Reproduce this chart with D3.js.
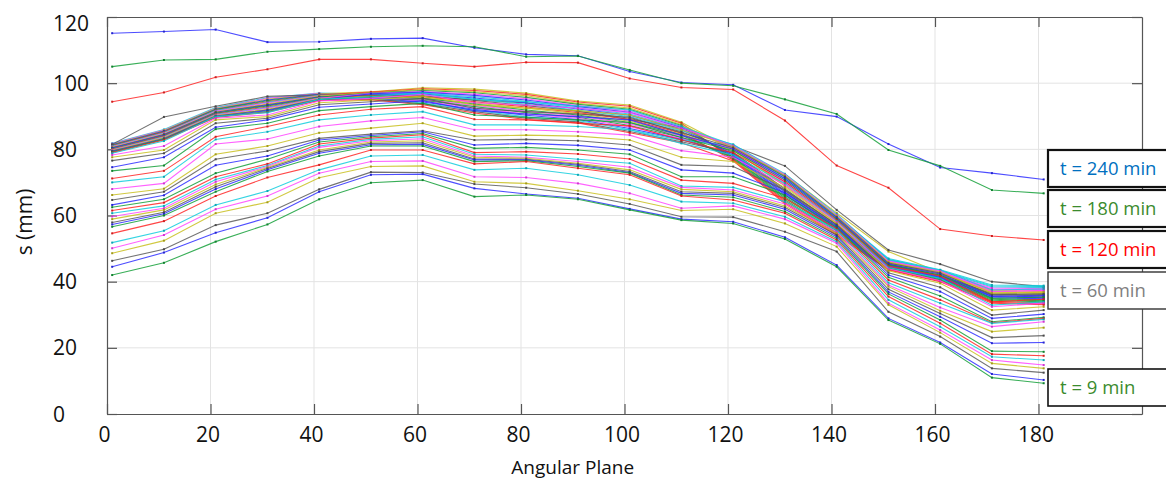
<!DOCTYPE html>
<html>
<head>
<meta charset="utf-8">
<script src="https://cdn.jsdelivr.net/npm/d3@7"></script>
<style>
  html, body { margin: 0; padding: 0; background: #ffffff; }
  svg { display: block; }
  .tick text { font-family: "Open Sans", sans-serif; fill: #111; }
</style>
</head>
<body>
<script>
// ---------------- DATA ----------------
const angles = [1, 11, 21, 31, 41, 51, 61, 71, 81, 91, 101, 111, 121, 131, 141, 151, 161, 171, 181];
const xTicks = [0, 20, 40, 60, 80, 100, 120, 140, 160, 180];
const yTicks = [0, 20, 40, 60, 80, 100, 120];

const s240 = [115.1, 115.6, 116.2, 112.4, 112.5, 113.4, 113.6, 110.7, 108.7, 108.3, 103.5, 100.2, 99.5, 91.9, 89.9, 81.6, 74.5, 72.8, 70.9];
const s180 = [105.0, 107.0, 107.2, 109.5, 110.3, 111.0, 111.3, 111.0, 108.0, 108.2, 104.0, 100.0, 99.2, 95.1, 90.7, 79.8, 75.0, 67.7, 66.7];
const s120 = [94.4, 97.2, 101.8, 104.2, 107.2, 107.2, 106.0, 105.0, 106.3, 106.2, 101.4, 98.7, 98.1, 88.7, 75.1, 68.4, 55.9, 53.8, 52.6];
const s60  = [81.5, 89.8, 93.0, 96.0, 96.5, 96.5, 96.0, 95.0, 94.0, 91.5, 89.0, 86.5, 81.0, 75.0, 61.7, 49.6, 45.3, 40.0, 38.5];

// tight upper bundle (listed bottom -> top at the left edge)
const bundleSeries = [
  [79.0, 82.8, 89.6, 91.2, 94.8, 95.0, 93.5, 91.0, 89.0, 88.0, 85.0, 82.0, 76.5, 63.5, 54.0, 43.5, 40.0, 33.5, 33.0],
  [79.2, 83.0, 89.8, 91.4, 94.9, 95.9, 95.4, 93.7, 91.9, 90.4, 88.1, 84.3, 77.3, 64.8, 54.9, 44.1, 40.6, 34.4, 33.9],
  [79.3, 83.1, 89.9, 91.7, 95.0, 96.8, 97.3, 96.3, 94.9, 92.9, 91.2, 86.6, 78.1, 66.2, 55.9, 44.6, 41.1, 35.2, 34.8],
  [79.5, 83.3, 90.1, 91.9, 95.1, 95.1, 93.8, 91.4, 89.4, 88.3, 85.4, 82.3, 78.9, 67.5, 56.8, 45.2, 41.7, 36.1, 35.7],
  [79.6, 83.5, 90.2, 92.1, 95.3, 96.0, 95.6, 94.0, 92.4, 90.8, 88.5, 84.6, 79.7, 68.9, 57.8, 45.7, 42.3, 37.0, 36.7],
  [79.8, 83.6, 90.4, 92.4, 95.4, 96.9, 97.5, 96.7, 95.3, 93.2, 91.6, 86.9, 80.4, 70.2, 58.7, 46.3, 42.8, 37.8, 37.6],
  [79.9, 83.8, 90.5, 92.6, 95.5, 95.3, 94.0, 91.8, 89.8, 88.7, 85.9, 82.7, 81.2, 71.6, 59.7, 46.8, 43.4, 38.7, 38.5],
  [80.0, 84.0, 90.7, 92.8, 95.6, 96.1, 95.9, 94.4, 92.8, 91.1, 89.0, 84.9, 76.8, 63.9, 54.3, 43.7, 40.2, 33.8, 33.3],
  [80.2, 84.1, 90.9, 93.1, 95.7, 97.0, 97.8, 97.1, 95.7, 93.6, 92.1, 87.2, 77.6, 65.3, 55.3, 44.2, 40.8, 34.7, 34.2],
  [80.4, 84.3, 91.0, 93.3, 95.8, 95.4, 94.3, 92.1, 90.3, 89.0, 86.3, 83.0, 78.3, 66.6, 56.2, 44.8, 41.3, 35.5, 35.1],
  [80.5, 84.5, 91.2, 93.5, 95.9, 96.3, 96.2, 94.8, 93.2, 91.5, 89.4, 85.3, 79.1, 68.0, 57.2, 45.3, 41.9, 36.4, 36.1],
  [80.6, 84.6, 91.3, 93.7, 96.1, 97.1, 98.1, 97.4, 96.2, 93.9, 92.5, 87.5, 79.9, 69.3, 58.1, 45.9, 42.5, 37.3, 37.0],
  [80.8, 84.8, 91.5, 94.0, 96.2, 95.5, 94.6, 92.5, 90.7, 89.4, 86.8, 83.3, 80.7, 70.7, 59.1, 46.4, 43.0, 38.1, 37.9],
  [80.9, 85.0, 91.7, 94.2, 96.3, 96.4, 96.5, 95.2, 93.6, 91.8, 89.9, 85.6, 81.5, 72.0, 60.0, 47.0, 43.6, 39.0, 38.8],
  [81.1, 85.2, 91.8, 94.4, 96.4, 97.3, 98.3, 97.8, 96.6, 94.3, 93.0, 87.9, 77.0, 64.4, 54.6, 43.9, 40.4, 34.1, 33.6],
  [81.2, 85.3, 92.0, 94.7, 96.5, 95.6, 94.8, 92.9, 91.1, 89.7, 87.2, 83.6, 77.8, 65.7, 55.6, 44.4, 41.0, 34.9, 34.5],
  [81.4, 85.5, 92.1, 94.9, 96.6, 96.5, 96.7, 95.5, 94.1, 92.2, 90.3, 85.9, 78.6, 67.1, 56.5, 45.0, 41.5, 35.8, 35.4],
  [81.5, 85.7, 92.3, 95.1, 96.8, 97.4, 98.6, 98.2, 97.0, 94.6, 93.4, 88.2, 80.0, 72.5, 60.8, 49.1, 42.8, 36.7, 36.4],
  [81.7, 85.8, 92.4, 95.4, 96.9, 95.8, 95.1, 93.3, 91.5, 90.1, 87.7, 84.0, 80.2, 69.8, 58.4, 46.1, 42.7, 37.6, 37.3],
  [81.8, 86.0, 92.6, 95.6, 97.0, 96.6, 97.0, 95.9, 94.5, 92.5, 90.7, 86.2, 81.0, 71.1, 59.4, 46.6, 43.2, 38.4, 38.2]
];

// lower fan of curves (first row = t = 9 min, bottom)
const lowerSeries = [
  [42.0, 45.7, 52.1, 57.3, 64.9, 69.9, 70.7, 65.7, 66.2, 64.9, 61.7, 58.6, 57.6, 52.9, 44.5, 28.4, 21.2, 11.0, 9.3],
  [44.5, 48.8, 54.8, 59.3, 67.2, 72.3, 72.5, 68.2, 66.5, 65.2, 62.0, 58.9, 58.1, 53.4, 45.0, 28.9, 21.6, 12.1, 10.3],
  [46.3, 49.8, 57.1, 60.7, 67.9, 73.1, 73.0, 69.5, 68.4, 66.5, 63.5, 59.6, 59.5, 55.1, 49.1, 30.9, 23.4, 13.8, 12.5],
  [48.6, 52.4, 60.7, 64.0, 71.4, 74.8, 75.0, 70.2, 69.7, 67.5, 64.9, 61.5, 61.9, 57.6, 50.6, 33.0, 24.6, 15.3, 13.8],
  [50.1, 54.1, 61.9, 65.9, 72.8, 76.3, 76.5, 71.7, 71.5, 69.7, 66.7, 62.2, 62.9, 58.9, 51.6, 33.5, 25.4, 16.3, 14.8],
  [51.8, 55.4, 63.2, 67.4, 73.8, 78.0, 78.3, 73.8, 74.3, 72.3, 69.2, 64.2, 63.7, 59.6, 52.1, 34.5, 26.4, 17.3, 16.3],
  [54.6, 58.3, 65.9, 71.5, 75.3, 79.8, 79.8, 75.6, 76.3, 74.3, 72.3, 65.9, 64.7, 60.7, 52.6, 35.5, 27.4, 18.1, 17.6],
  [56.6, 60.0, 67.2, 73.3, 78.0, 81.0, 81.0, 76.3, 76.6, 74.8, 72.8, 66.2, 65.5, 61.2, 53.1, 36.3, 28.4, 19.0, 18.8],
  [57.3, 60.5, 68.0, 73.8, 78.8, 81.4, 81.5, 76.8, 76.8, 75.2, 73.0, 66.7, 66.2, 61.9, 53.6, 36.9, 29.4, 21.4, 21.6],
  [57.9, 61.0, 68.7, 74.2, 79.3, 81.8, 82.0, 77.1, 77.0, 75.5, 73.3, 67.2, 66.7, 62.4, 54.1, 37.7, 30.4, 23.1, 23.7],
  [58.9, 61.7, 69.4, 74.5, 79.8, 82.2, 82.6, 77.6, 77.3, 75.8, 73.8, 67.9, 67.2, 62.9, 54.6, 38.5, 31.2, 24.9, 26.1],
  [59.7, 62.2, 70.2, 74.8, 80.6, 82.6, 83.2, 78.0, 77.6, 76.3, 74.6, 68.5, 67.7, 63.5, 55.1, 39.0, 32.2, 26.4, 27.9],
  [60.7, 62.9, 70.9, 75.1, 81.0, 83.0, 83.8, 78.5, 78.3, 77.0, 75.8, 68.9, 68.5, 64.2, 55.6, 39.7, 33.5, 27.4, 28.6],
  [61.5, 63.9, 71.7, 75.6, 81.6, 83.4, 84.4, 79.0, 79.3, 78.6, 77.1, 70.7, 69.7, 65.2, 56.0, 40.5, 34.5, 27.6, 28.9],
  [62.5, 64.9, 72.8, 77.0, 82.2, 83.8, 84.8, 80.3, 80.6, 79.8, 78.5, 71.7, 71.7, 66.2, 56.4, 41.3, 35.7, 27.9, 29.2],
  [63.2, 66.1, 75.2, 78.0, 82.8, 84.2, 85.3, 81.3, 81.8, 81.2, 79.8, 73.8, 72.8, 66.9, 56.8, 42.0, 37.0, 28.9, 30.2],
  [64.7, 67.2, 77.0, 79.5, 83.3, 84.6, 85.6, 82.8, 83.0, 82.6, 81.3, 75.3, 74.8, 67.7, 57.2, 42.7, 38.3, 29.9, 31.4],
  [66.2, 68.1, 78.5, 81.0, 85.0, 86.4, 87.9, 84.0, 84.3, 84.0, 82.8, 77.6, 76.3, 68.5, 57.6, 43.3, 39.5, 31.4, 32.4],
  [68.0, 69.7, 81.6, 83.1, 86.9, 88.6, 89.6, 85.9, 85.9, 85.3, 84.3, 79.6, 77.6, 69.2, 58.0, 43.9, 40.3, 32.4, 33.5],
  [70.0, 71.7, 83.0, 85.3, 88.9, 90.4, 91.4, 87.4, 87.4, 86.9, 85.9, 81.8, 78.3, 69.7, 58.3, 44.3, 41.0, 32.9, 33.9],
  [71.2, 73.5, 83.8, 86.9, 90.4, 92.1, 92.9, 89.1, 88.9, 87.9, 87.1, 82.8, 79.0, 70.2, 58.6, 44.7, 41.7, 33.9, 34.7],
  [73.5, 75.1, 86.1, 87.9, 91.7, 92.9, 93.9, 90.4, 89.7, 88.9, 88.1, 83.6, 79.6, 70.7, 58.9, 45.0, 42.0, 35.0, 35.3],
  [74.6, 77.6, 86.7, 88.9, 92.7, 93.7, 94.7, 91.7, 90.7, 89.9, 88.9, 84.3, 80.0, 71.2, 59.2, 45.3, 42.3, 35.5, 35.8],
  [76.6, 78.8, 87.9, 89.4, 93.5, 94.4, 95.4, 92.4, 91.4, 90.7, 89.7, 85.0, 80.5, 71.7, 59.5, 45.6, 42.6, 36.0, 36.3],
  [77.6, 79.8, 88.9, 89.9, 94.1, 94.9, 96.1, 93.4, 92.4, 91.7, 90.4, 85.9, 80.8, 72.0, 59.8, 45.9, 42.9, 36.5, 36.8],
  [78.3, 81.0, 89.4, 90.4, 94.6, 95.4, 96.6, 94.1, 93.4, 92.4, 91.1, 86.4, 81.1, 72.3, 60.1, 46.2, 43.2, 37.0, 37.3],
  [78.8, 82.5, 89.9, 91.1, 95.1, 95.9, 97.1, 95.1, 94.4, 93.1, 91.9, 86.9, 81.3, 72.6, 60.4, 46.5, 43.5, 37.5, 37.8]
];

const legendLabels = ["t = 240 min", "t = 180 min", "t = 120 min", "t = 60 min", "t = 9 min"];
const legendColors = ["#0070C0", "#3B8B2E", "#FF0000", "#7F7F7F", "#3B8B2E"];
const lineCycle = ["#2E2EFF", "#15A03A", "#FF2626", "#12CCDD", "#FF45FF", "#C9C020", "#5A5A5A"];

// ---------------- ORDER (plot order like a colour-cycled line plot) ----------------
const ordered = [s240, s180, s120,
  bundleSeries[19], bundleSeries[18], bundleSeries[17], s60]
  .concat(bundleSeries.slice(0, 17).reverse())
  .concat(lowerSeries.slice().reverse());

// ---------------- LAYOUT ----------------
const W = 1166, H = 481;
const L = 107, R = 1142, T = 17, B = 414;
const svg = d3.select("body").append("svg").attr("width", W).attr("height", H);

const x = d3.scaleLinear().domain([0, 200]).range([L, R]);
const y = d3.scaleLinear().domain([0, 120]).range([B, T]);

// grid
const grid = svg.append("g");
grid.selectAll("line.gx").data(xTicks.filter(d => d > 0)).enter().append("line")
  .attr("x1", d => x(d)).attr("x2", d => x(d)).attr("y1", T).attr("y2", B)
  .attr("stroke", "#e3e3e3").attr("stroke-width", 1);
grid.selectAll("line.gy").data(yTicks.filter(d => d > 0 && d < 120)).enter().append("line")
  .attr("y1", d => y(d)).attr("y2", d => y(d)).attr("x1", L).attr("x2", R)
  .attr("stroke", "#e3e3e3").attr("stroke-width", 1);

// axes
const axisColor = "#555";
function styleAxis(g) {
  g.select(".domain").attr("stroke", axisColor).attr("stroke-width", 1.2);
  g.selectAll(".tick line").attr("stroke", axisColor).attr("stroke-width", 1.2);
}
const gBottom = svg.append("g").attr("transform", `translate(0,${B})`)
  .call(d3.axisBottom(x).tickValues(xTicks).tickSize(-10).tickSizeOuter(0).tickPadding(15));
gBottom.selectAll(".tick text").attr("font-size", 21).attr("dx", -3).attr("dy", "0.64em");
styleAxis(gBottom);

const gTop = svg.append("g").attr("transform", `translate(0,${T})`)
  .call(d3.axisTop(x).tickValues(xTicks).tickSize(-10).tickSizeOuter(0).tickFormat(""));
styleAxis(gTop);

const gLeft = svg.append("g").attr("transform", `translate(${L},0)`)
  .call(d3.axisLeft(y).tickValues(yTicks).tickSize(-10).tickSizeOuter(0));
gLeft.selectAll(".tick text").attr("font-size", 21).attr("text-anchor", "start").attr("x", -54)
  .attr("dy", d => d === 120 ? "0.62em" : "0.34em");
styleAxis(gLeft);

const gRight = svg.append("g").attr("transform", `translate(${R},0)`)
  .call(d3.axisRight(y).tickValues(yTicks).tickSize(-10).tickSizeOuter(0).tickFormat(""));
styleAxis(gRight);

// lines
const line = d3.line().x((d, i) => x(angles[i])).y(d => y(d));
const series = svg.append("g").selectAll("g.s").data(ordered).enter().append("g");
series.append("path")
  .attr("d", d => line(d))
  .attr("fill", "none")
  .attr("stroke", (d, i) => lineCycle[i % 7])
  .attr("stroke-width", 1.1)
  .attr("stroke-opacity", 0.85);
series.each(function (d, i) {
  d3.select(this).selectAll("rect").data(d).enter().append("rect")
    .attr("x", (v, j) => x(angles[j]) - 1)
    .attr("y", v => y(v) - 1)
    .attr("width", 2).attr("height", 2)
    .attr("fill", d3.color(lineCycle[i % 7]).darker(0.6));
});

// axis titles
svg.append("text").attr("x", (x(0) + x(180)) / 2).attr("y", 474)
  .attr("text-anchor", "middle").attr("font-family", "Open Sans, sans-serif")
  .attr("font-size", 19).attr("fill", "#111").text("Angular Plane");
svg.append("text").attr("transform", "translate(32,222) rotate(-90)")
  .attr("text-anchor", "middle").attr("font-family", "Open Sans, sans-serif")
  .attr("font-size", 21).attr("fill", "#111").text("s (mm)");

// annotation boxes
const boxTops = [150, 190, 231, 272, 369];
const boxStroke = [2.2, 2.2, 2.2, 1.4, 1.6];
const boxStrokeColor = ["#111", "#111", "#111", "#333", "#111"];
const ann = svg.append("g").selectAll("g").data(legendLabels).enter().append("g");
ann.append("rect")
  .attr("x", 1048).attr("y", (d, i) => boxTops[i])
  .attr("width", 140).attr("height", 37)
  .attr("fill", "#fff")
  .attr("stroke", (d, i) => boxStrokeColor[i])
  .attr("stroke-width", (d, i) => boxStroke[i]);
ann.append("text")
  .attr("x", 1060).attr("y", (d, i) => boxTops[i] + 18.5)
  .attr("dy", "0.36em")
  .attr("font-family", "Open Sans, sans-serif").attr("font-size", 18.5)
  .attr("fill", (d, i) => legendColors[i])
  .text(d => d);
</script>
</body>
</html>
